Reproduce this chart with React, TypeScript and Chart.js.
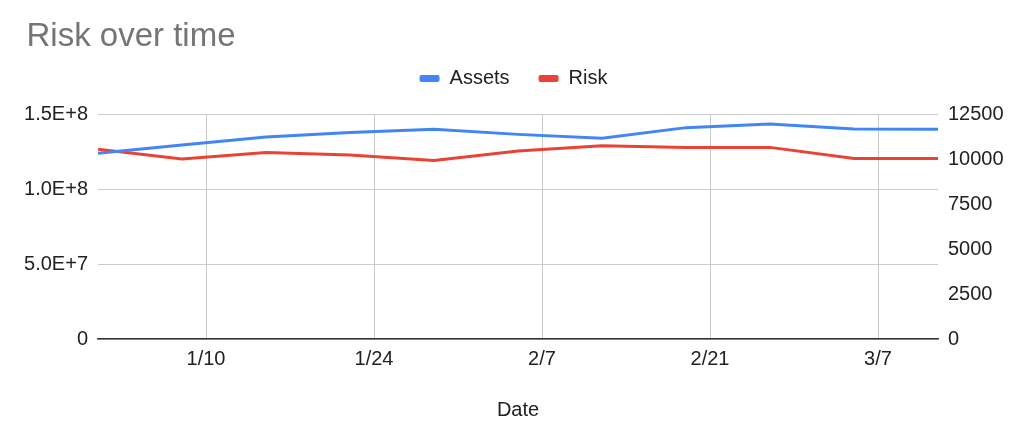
import React, { useEffect, useRef } from 'react';
import { Chart, registerables } from 'chart.js';

Chart.register(...registerables);

// Weekly observation dates (month/day, 2023)
const pointDates = ['1/1', '1/8', '1/15', '1/22', '1/29', '2/5', '2/12', '2/19', '2/26', '3/5', '3/12'];
// Left axis series
const assetsValues = [1.24e8, 1.295e8, 1.348e8, 1.378e8, 1.4e8, 1.366e8, 1.34e8, 1.411e8, 1.435e8, 1.402e8, 1.4e8];
// Right axis series
const riskValues = [10550, 10010, 10380, 10240, 9930, 10460, 10750, 10660, 10660, 10040, 10040];
// X tick labels
const xTickLabels = ['1/10', '1/24', '2/7', '2/21', '3/7'];

const seriesNames = ['Assets', 'Risk'];
const seriesColors = ['#4285F4', '#EA4335'];

const dayOf = (md: string) => {
  const [m, d] = md.split('/').map(Number);
  return (Date.UTC(2023, m - 1, d) - Date.UTC(2023, 0, 1)) / 86400000;
};

const FONT = '"Liberation Sans", Arial, Helvetica, sans-serif';

const layoutTweaks = {
  id: 'layoutTweaks',
  beforeInit(chart: any) {
    const legend = chart.legend;
    if (legend) {
      const origFit = legend.fit;
      legend.fit = function () {
        origFit.call(this);
        this.height = 74.7;
      };
    }
    const title = chart.titleBlock;
    if (title) {
      const origDraw = title.draw;
      title.draw = function () {
        const ctx = this.ctx;
        ctx.save();
        ctx.translate(3.5, 0);
        origDraw.call(this);
        ctx.restore();
      };
    }
  },
};

export default function App() {
  const canvasRef = useRef<HTMLCanvasElement | null>(null);

  useEffect(() => {
    if (!canvasRef.current) return;
    Chart.defaults.font.family = FONT;
    const xTickValues = xTickLabels.map(dayOf);
    const chart = new Chart(canvasRef.current, {
      type: 'line',
      data: {
        datasets: [
          {
            label: seriesNames[0],
            data: pointDates.map((d, i) => ({ x: dayOf(d), y: assetsValues[i] })),
            borderColor: seriesColors[0],
            backgroundColor: seriesColors[0],
            borderWidth: 3,
            pointRadius: 0,
            tension: 0,
            yAxisID: 'y',
          },
          {
            label: seriesNames[1],
            data: pointDates.map((d, i) => ({ x: dayOf(d), y: riskValues[i] })),
            borderColor: seriesColors[1],
            backgroundColor: seriesColors[1],
            borderWidth: 3,
            pointRadius: 0,
            tension: 0,
            yAxisID: 'y1',
          },
        ],
      },
      options: {
        animation: false,
        responsive: true,
        maintainAspectRatio: false,
        layout: { padding: { left: 23, right: 20, top: 0, bottom: 0 } },
        plugins: {
          title: {
            display: true,
            text: 'Risk over time',
            align: 'start',
            color: '#757575',
            font: { size: 33, weight: 'normal', family: FONT },
            padding: { top: 17, bottom: -17 },
          },
          legend: {
            display: true,
            position: 'top',
            align: 'center',
            labels: {
              color: '#222',
              font: { size: 20, family: FONT },
              boxWidth: 20,
              boxHeight: 7,
              padding: 29,
              useBorderRadius: true,
              borderRadius: 2,
              generateLabels: (c: any) =>
                Chart.defaults.plugins.legend.labels
                  .generateLabels(c)
                  .map((l: any) => ({ ...l, lineWidth: 0 })),
            },
          },
          tooltip: { enabled: false },
        },
        scales: {
          x: {
            type: 'linear',
            min: dayOf(pointDates[0]),
            max: dayOf(pointDates[pointDates.length - 1]),
            afterBuildTicks: (scale: any) => {
              scale.ticks = xTickValues.map((v) => ({ value: v }));
            },
            ticks: {
              color: '#222',
              font: { size: 20, family: FONT },
              padding: 8,
              maxRotation: 0,
              autoSkip: false,
              callback: (value: any) => {
                const idx = xTickValues.indexOf(Number(value));
                return idx >= 0 ? xTickLabels[idx] : '';
              },
            },
            grid: { color: '#cccccc', lineWidth: 1, drawTicks: false },
            border: { display: true, color: '#333333', width: 1.5 },
            title: {
              display: true,
              text: 'Date',
              color: '#222',
              font: { size: 20, family: FONT },
              padding: { top: 19, bottom: 11 },
            },
          },
          y: {
            type: 'linear',
            position: 'left',
            min: 0,
            max: 1.5e8,
            ticks: {
              stepSize: 5e7,
              color: '#222',
              font: { size: 20, family: FONT },
              padding: 10,
              callback: (value: any) => {
                const v = Number(value);
                return v === 0 ? '0' : v.toExponential(1).toUpperCase();
              },
            },
            grid: { color: '#cccccc', lineWidth: 1, drawTicks: false },
            border: { display: false },
            afterFit: (scale: any) => {
              scale.width = 75;
            },
          },
          y1: {
            type: 'linear',
            position: 'right',
            min: 0,
            max: 12500,
            ticks: {
              stepSize: 2500,
              color: '#222',
              font: { size: 20, family: FONT },
              padding: 10,
              callback: (value: any) => String(value),
            },
            grid: { display: false, drawTicks: false },
            border: { display: false },
            afterFit: (scale: any) => {
              scale.width = 66;
            },
          },
        },
      },
      plugins: [layoutTweaks],
    } as any);
    return () => chart.destroy();
  }, []);

  return (
    <div style={{ position: 'fixed', left: 0, top: 0, width: 1024, height: 433, background: '#fff' }}>
      <canvas ref={canvasRef} />
    </div>
  );
}
